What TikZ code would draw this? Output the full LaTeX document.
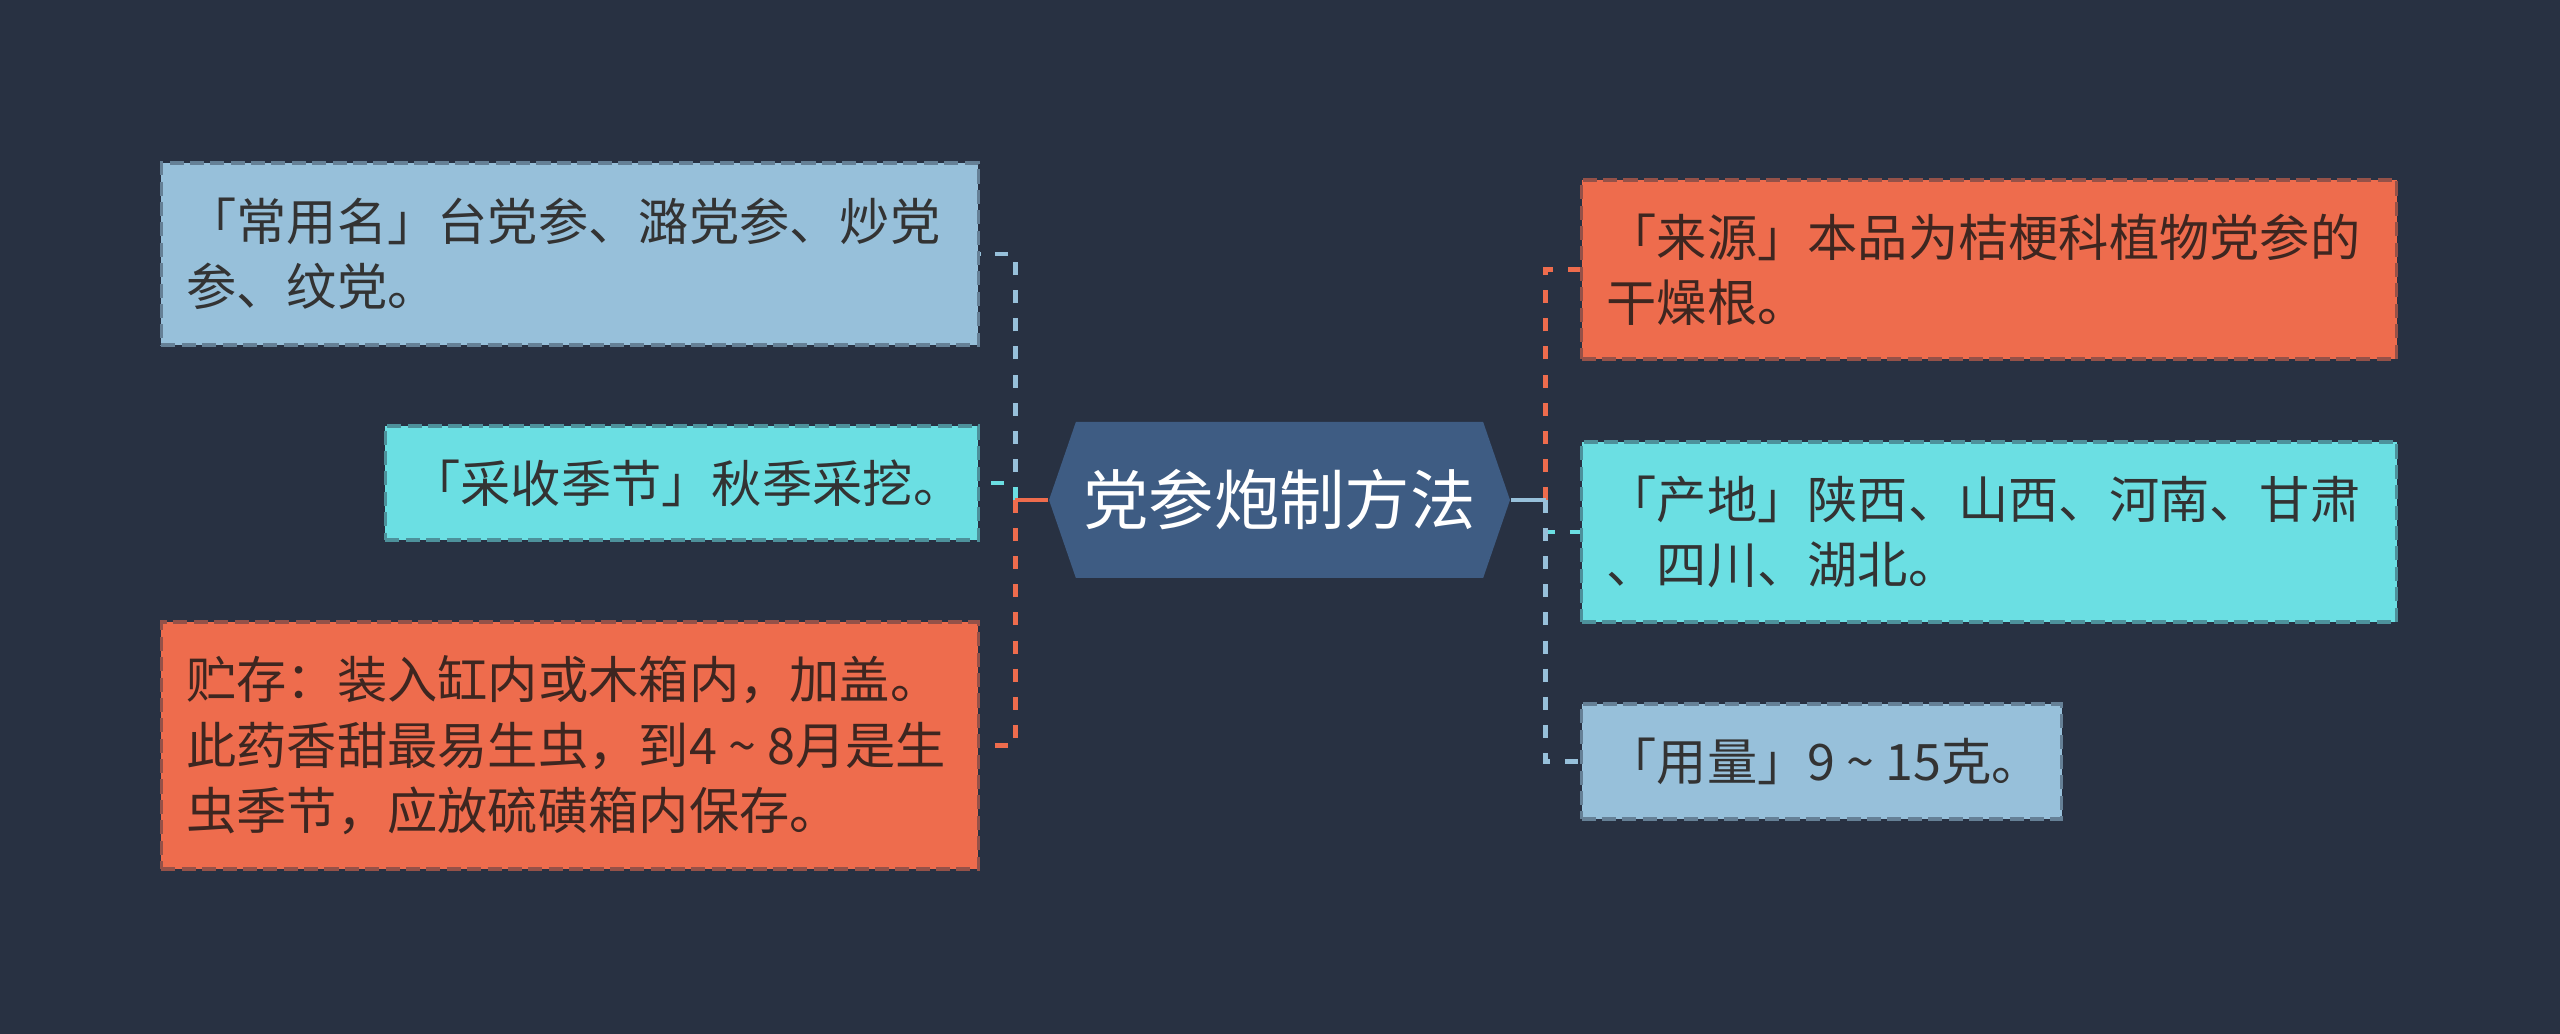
\documentclass[tikz,border=0pt]{standalone}
\usepackage{fontspec}
\setmainfont{Noto Sans CJK SC}
\usepackage{tikz}
\usetikzlibrary{positioning,calc,shapes.symbols}
\definecolor{bgnavy}{RGB}{40,49,66}
\definecolor{hubblue}{RGB}{62,92,131}
\definecolor{paleblue}{RGB}{151,192,218}
\definecolor{aqua}{RGB}{107,223,227}
\definecolor{coral}{RGB}{238,108,77}
\definecolor{inkgray}{RGB}{51,51,51}
\definecolor{inkbrown}{RGB}{62,38,32}
\newcommand{\wave}{\makebox[1em]{\textasciitilde}}

\begin{document}
\begin{tikzpicture}[hub/.style={signal, signal to=west and east,
                      signal pointer angle=142, fill=hubblue, text=white,
                      minimum width=4.61cm, minimum height=1.56cm, inner sep=0pt,
                      font=\fontsize{18.6pt}{22pt}\selectfont},
                    leaf/.style={rectangle, fill=#1, draw=#1!55!bgnavy,
                      dash pattern=on 4pt off 1.8pt, line width=0.9pt,
                      inner xsep=0.25cm, inner ysep=0pt, align=left,
                      font=\fontsize{14.3pt}{18.6pt}\selectfont},
                    branch/.style={draw=#1, line width=1.4pt,
                      dash pattern=on 3.7pt off 4.3pt}]

                  \fill[bgnavy] (0,0) rectangle (25.6,-10.34);
                  \useasboundingbox (0,0) rectangle (25.6,-10.34);

                  % centre topic
                  \node[hub] (hub) at (12.795,-5.0) {党参炮制方法};

                  % left side
                  \node[leaf=paleblue, text=inkgray, text width=7.67cm,
                    minimum height=1.82cm, anchor=east] (name) at (9.8,-2.54)
                    {「常用名」台党参、潞党参、炒党\\参、纹党。};
                  \node[leaf=aqua, text=inkgray, text width=5.43cm,
                    minimum height=1.14cm, anchor=east] (season) at (9.8,-4.83)
                    {「采收季节」秋季采挖。};
                  \node[leaf=coral, text=inkbrown, text width=7.67cm,
                    minimum height=2.47cm, anchor=east] (store) at (9.8,-7.455)
                    {贮存：装入缸内或木箱内，加盖。\\此药香甜最易生虫，到4\wave 8月是生\\虫季节，应放硫磺箱内保存。};

                  % right side
                  \node[leaf=coral, text=inkbrown, text width=7.65cm,
                    minimum height=1.79cm, anchor=west] (source) at (15.8,-2.695)
                    {「来源」本品为桔梗科植物党参的\\干燥根。};
                  \node[leaf=aqua, text=inkgray, text width=7.65cm,
                    minimum height=1.80cm, anchor=west] (origin) at (15.8,-5.32)
                    {「产地」陕西、山西、河南、甘肃\\、四川、湖北。};
                  \node[leaf=paleblue, text=inkgray, text width=4.30cm,
                    minimum height=1.15cm, anchor=west] (dose) at (15.8,-7.615)
                    {「用量」9\wave 15克。};

                  \coordinate (lfork) at ($(hub.west)+(-0.33,0)$);
                  \coordinate (rfork) at ($(hub.east)+(0.35,0)$);

                  \draw[branch=paleblue] (lfork) |- (name.east);
                  \draw[branch=aqua] (lfork) |- (season.east);
                  \draw[branch=coral] (lfork) |- (store.east);
                  \draw[branch=coral, solid] (hub.west) -- (lfork);

                  \draw[branch=coral] (rfork) |- (source.west);
                  \draw[branch=aqua] (rfork) |- (origin.west);
                  \draw[branch=paleblue] (rfork) |- (dose.west);
                  \draw[branch=paleblue, solid] (hub.east) -- (rfork);
                \end{tikzpicture}
\end{document}
